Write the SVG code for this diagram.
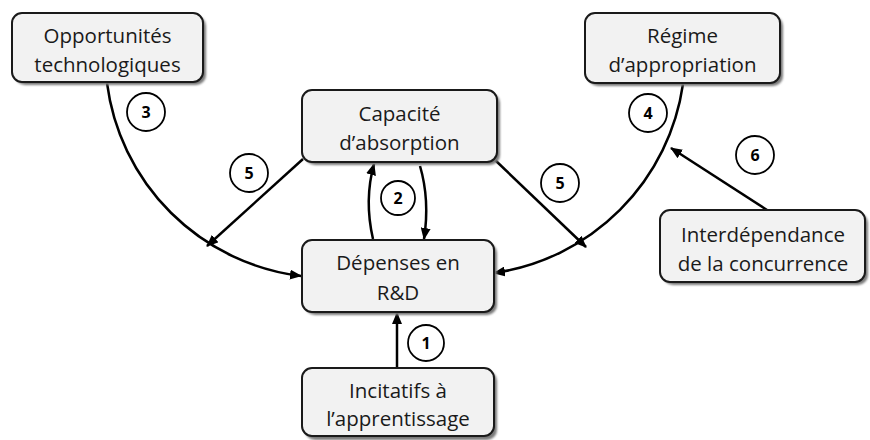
<svg xmlns="http://www.w3.org/2000/svg" width="870" height="440" viewBox="0 0 870 440">
  <defs>
    <marker id="arrow" viewBox="0 0 12 10" refX="11" refY="5" markerWidth="12" markerHeight="10" markerUnits="userSpaceOnUse" orient="auto">
      <path d="M0,0 L12,5 L0,10 Z" fill="#000"/>
    </marker>
    <filter id="soft" x="-5%" y="-5%" width="110%" height="110%">
      <feGaussianBlur stdDeviation="0.8"/>
    </filter>
  </defs>
  <style>
    .shadow { fill: #7a7a7a; filter: url(#soft); }
    .box { fill: #f2f2f2; stroke: #1a1a1a; stroke-width: 2; }
    .label { font-family: "Open Sans", "Liberation Sans", sans-serif; font-size: 20.5px; fill: #1a1a1a; text-anchor: middle; }
    .edge { fill: none; stroke: #000; stroke-width: 2.5; }
    .num circle { fill: #fff; stroke: #000; stroke-width: 1.8; }
    .num text { font-family: "Open Sans", "Liberation Sans", sans-serif; font-size: 16px; font-weight: bold; fill: #000; text-anchor: middle; }
  </style>
  <rect width="870" height="440" fill="#fff"/>

  <!-- connectors -->
  <g id="connectors">
    <path class="edge" d="M107,83 A223,223 0 0,0 301,276" marker-end="url(#arrow)"/>
    <path class="edge" d="M683,84 A223,223 0 0,1 494,273" marker-end="url(#arrow)"/>
    <path class="edge" d="M303,159 L207,246" marker-end="url(#arrow)"/>
    <path class="edge" d="M495,160 L586,247" marker-end="url(#arrow)"/>
    <path class="edge" d="M373,239 Q364,200 374,164" marker-end="url(#arrow)"/>
    <path class="edge" d="M420,166 Q430,200 424,239" marker-end="url(#arrow)"/>
    <path class="edge" d="M397,368 L397,313" marker-end="url(#arrow)"/>
    <path class="edge" d="M767,210 L671,148" marker-end="url(#arrow)"/>
  </g>

  <!-- step numbers -->
  <g class="num">
    <g id="n1"><circle cx="426" cy="343" r="18"/><text x="426" y="349">1</text></g>
    <g id="n2"><circle cx="398" cy="198" r="17"/><text x="398" y="204">2</text></g>
    <g id="n3"><circle cx="146" cy="112" r="19"/><text x="146" y="118">3</text></g>
    <g id="n4"><circle cx="648" cy="113" r="19"/><text x="648" y="119">4</text></g>
    <g id="n5a"><circle cx="249" cy="173" r="19"/><text x="249" y="179">5</text></g>
    <g id="n5b"><circle cx="560" cy="183" r="19"/><text x="560" y="189">5</text></g>
    <g id="n6"><circle cx="755" cy="155" r="19"/><text x="755" y="161">6</text></g>
  </g>

  <!-- nodes -->
  <g id="opportunites">
    <rect class="shadow" x="15" y="16" width="191" height="69" rx="10"/>
    <rect class="box" x="12" y="13" width="191" height="69" rx="10"/>
    <text class="label" x="107.5" y="43">Opportunités</text>
    <text class="label" x="107.5" y="72">technologiques</text>
  </g>
  <g id="capacite">
    <rect class="shadow" x="305" y="93" width="195" height="72" rx="10"/>
    <rect class="box" x="302" y="90" width="195" height="72" rx="10"/>
    <text class="label" x="399.5" y="121">Capacité</text>
    <text class="label" x="399.5" y="150">d’absorption</text>
  </g>
  <g id="regime">
    <rect class="shadow" x="588" y="16" width="195" height="70" rx="10"/>
    <rect class="box" x="585" y="13" width="195" height="70" rx="10"/>
    <text class="label" x="682.5" y="43">Régime</text>
    <text class="label" x="682.5" y="72">d’appropriation</text>
  </g>
  <g id="interdependance">
    <rect class="shadow" x="663" y="213" width="205" height="72" rx="10"/>
    <rect class="box" x="660" y="210" width="205" height="72" rx="10"/>
    <text class="label" x="763" y="242">Interdépendance</text>
    <text class="label" x="763" y="271">de la concurrence</text>
  </g>
  <g id="depenses">
    <rect class="shadow" x="305" y="243" width="192" height="72" rx="10"/>
    <rect class="box" x="302" y="240" width="192" height="72" rx="10"/>
    <text class="label" x="398" y="270">Dépenses en</text>
    <text class="label" x="398" y="300">R&amp;D</text>
  </g>
  <g id="incitatifs">
    <rect class="shadow" x="305" y="371" width="192" height="69" rx="10"/>
    <rect class="box" x="302" y="368" width="192" height="68" rx="10"/>
    <text class="label" x="398" y="398">Incitatifs à</text>
    <text class="label" x="398" y="426">l’apprentissage</text>
  </g>
</svg>
